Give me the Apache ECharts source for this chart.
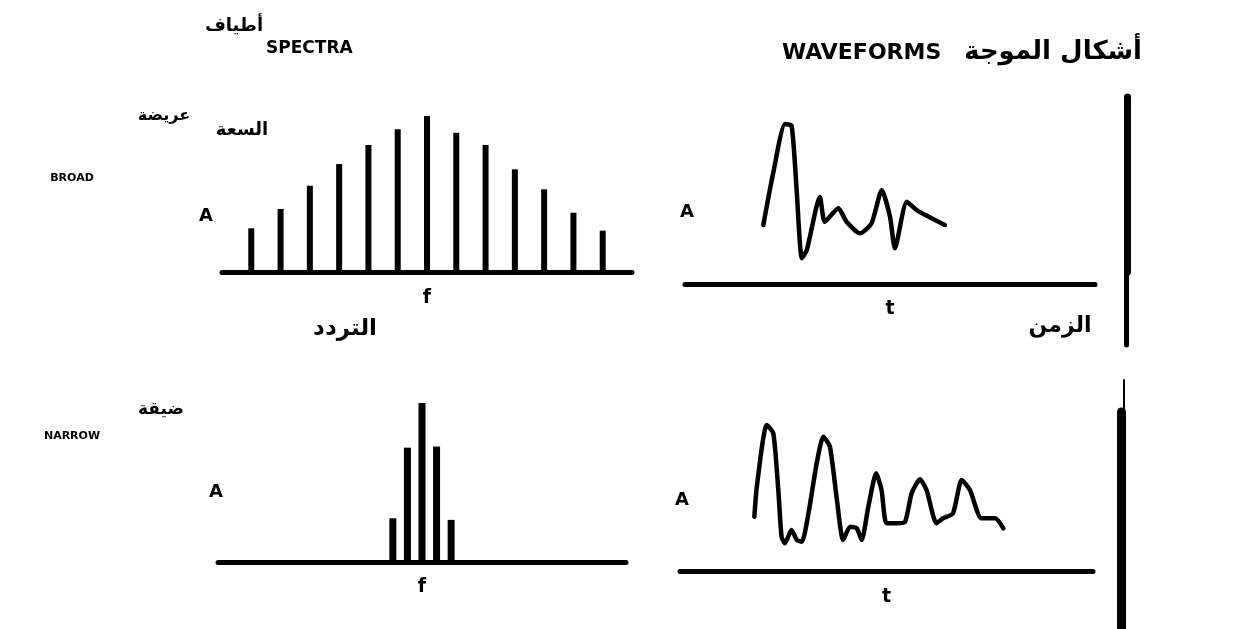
<!DOCTYPE html>
<html><head><meta charset="utf-8">
<script src="https://cdn.jsdelivr.net/npm/echarts@6/dist/echarts.min.js"></script>
<style>html,body{margin:0;padding:0;background:#fff}#c{width:1248px;height:629px}</style>
</head><body><div id="c"></div>
<script>
// ---- data ----
const broadFreq = [1,2,3,4,5,6,7,8,9,10,11,12,13];
const broadAmp  = [28,40.4,55.3,69.2,81.4,91.5,100,89.3,81.4,65.8,53,38,26.5];
const narrowFreq = [6,6.5,7,7.5,8];
const narrowAmp  = [28,73.3,102,74,27];
const broadTime = [19.1,21.5,24.4,26.0,27.2,28.5,29.7,32.9,34.1,37.4,39.4,42.7,45.5,48.0,50.0,51.2,54.1,56.5,63.4];
const broadWave = [3.47,6.51,9.41,9.31,5.65,1.51,1.99,5.12,3.66,4.45,3.66,2.98,3.57,5.53,3.96,2.10,4.84,4.35,3.47];
const narrowTime = [18.0,18.6,21.0,22.6,23.8,24.6,25.4,27.0,28.3,29.5,31.1,33.1,34.7,36.3,37.9,39.5,41.2,42.8,44.0,45.6,47.5,48.8,50.0,52.5,54.5,56.1,58.1,59.7,62.1,63.7,66.1,68.2,70.2,73.0,76.3,78.3];
const narrowWave = [3.19,4.96,8.59,8.10,4.76,2.02,1.63,2.41,1.82,1.72,3.39,6.34,7.90,7.31,4.37,1.82,2.61,2.51,1.82,3.78,5.75,4.76,2.81,2.81,2.90,4.57,5.39,4.76,2.81,3.10,3.39,5.35,4.76,3.10,3.10,2.51];
const axisNames = {freq:'f', time:'t'};

const zip = (a,b) => a.map((v,i)=>[v,b[i]]);
const FONT = '"DejaVu Sans", "Liberation Sans", sans-serif';

function xAx(gi, max, name, lw, gap){
  return {type:'value', gridIndex:gi, min:0, max:max, name:name, nameLocation:'middle', nameGap:gap,
    nameTextStyle:{color:'#000', fontSize:19, fontWeight:'bold', fontFamily:FONT},
    axisLine:{show:true, lineStyle:{color:'#000', width:lw}}, axisTick:{show:false}, axisLabel:{show:false}, splitLine:{show:false}};
}
function yAx(gi, max){
  return {type:'value', gridIndex:gi, min:0, max:max, axisLine:{show:false}, axisTick:{show:false}, axisLabel:{show:false}, splitLine:{show:false}};
}
function sepY(gi, lw){
  return {type:'value', gridIndex:gi, min:0, max:1, axisLine:{show:true, onZero:false, lineStyle:{color:'#000', width:lw}}, axisTick:{show:false}, axisLabel:{show:false}, splitLine:{show:false}};
}
function sepX(gi){
  return {type:'value', gridIndex:gi, min:0, max:1, show:false};
}
function txt(text, x, y, size, align, weight){
  return {type:'text', x:x, y:y, style:{text:text, fill:'#000', font:(weight||'bold')+' '+size+'px '+FONT, textAlign:align||'center', textVerticalAlign:'middle'}};
}

const chart = echarts.init(document.getElementById('c'), null, {renderer:'canvas'});
chart.setOption({
  backgroundColor:'#fff',
  animation:false,
  grid:[
    {left:222, top:100.4, width:410, height:171.6},
    {left:685, top:114, width:410, height:170},
    {left:218, top:390.4, width:408, height:171.6},
    {left:680, top:401, width:413, height:170},
    {left:1127, top:97, width:1, height:175},
    {left:1126, top:272, width:1, height:73},
    {left:1124, top:380, width:1, height:33},
    {left:1121, top:412, width:1, height:217}
  ],
  xAxis:[
    xAx(0, 14, axisNames.freq, 5, 17),
    xAx(1, 100, axisNames.time, 5, 16),
    xAx(2, 14, axisNames.freq, 5, 16),
    xAx(3, 100, axisNames.time, 5, 17),
    sepX(4), sepX(5), sepX(6), sepX(7)
  ],
  yAxis:[
    yAx(0, 110), yAx(1, 10), yAx(2, 110), yAx(3, 10),
    sepY(4, 7), sepY(5, 5), sepY(6, 2), sepY(7, 9)
  ],
  series:[
    {type:'bar', xAxisIndex:0, yAxisIndex:0, data:zip(broadFreq, broadAmp), barWidth:6, itemStyle:{color:'#000'}},
    {type:'line', xAxisIndex:1, yAxisIndex:1, data:zip(broadTime, broadWave), symbol:'none', smooth:0.2,
      lineStyle:{color:'#000', width:4.5, join:'round', cap:'round'}},
    {type:'bar', xAxisIndex:2, yAxisIndex:2, data:zip(narrowFreq, narrowAmp), barWidth:7, itemStyle:{color:'#000'}},
    {type:'line', xAxisIndex:3, yAxisIndex:3, data:zip(narrowTime, narrowWave), symbol:'none', smooth:0.2,
      lineStyle:{color:'#000', width:4.5, join:'round', cap:'round'}}
  ],
  graphic:[
    txt('أطياف', 234, 26, 18),
    txt('SPECTRA', 266, 49, 17, 'left'),
    txt('WAVEFORMS', 782, 53, 22, 'left'),
    txt('أشكال الموجة', 1142, 52, 26, 'right'),
    txt('عريضة', 164, 116, 16),
    txt('BROAD', 72, 178, 11),
    txt('السعة', 242, 130, 18),
    txt('A', 206, 216, 18),
    txt('التردد', 345, 329, 23),
    txt('A', 687, 212, 18),
    txt('الزمن', 1060, 326, 22),
    txt('ضيقة', 161, 410, 17),
    txt('NARROW', 72, 436, 11),
    txt('A', 216, 492, 18),
    txt('A', 682, 500, 18)
  ]
});
</script></body></html>
